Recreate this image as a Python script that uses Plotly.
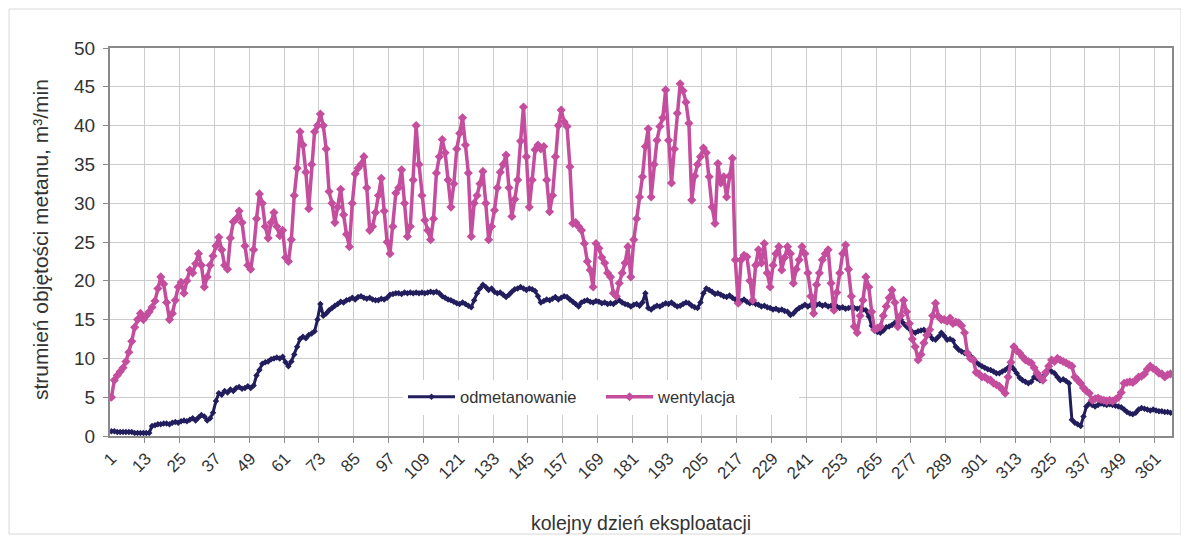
import plotly.graph_objects as go

days = list(range(1, 367))

odmetanowanie = [
    0.6, 0.6, 0.5, 0.5, 0.5, 0.5, 0.5, 0.5, 0.4, 0.4,
    0.4, 0.4, 0.4, 0.4, 1.3, 1.4, 1.5, 1.5, 1.6, 1.6,
    1.5, 1.7, 1.8, 1.7, 1.9, 2.0, 1.9, 2.1, 2.3, 2.0,
    2.4, 2.7, 2.5, 2.0, 2.3, 3.0, 4.5, 5.5, 5.3, 5.8,
    5.6, 6.0, 5.8, 6.2, 6.3, 6.1, 6.2, 6.4, 6.2, 6.5,
    7.8, 8.5, 9.3, 9.5, 9.6, 9.9, 10.0, 10.1, 10.0, 10.2,
    9.5, 9.0, 9.6, 10.5, 11.5, 12.5, 12.8, 12.6, 13.0, 13.2,
    13.5, 15.0, 17.0, 15.5, 15.8, 16.2, 16.5, 16.8, 17.0, 17.3,
    17.2, 17.5, 17.6, 17.8, 17.6, 17.9, 18.0, 17.8, 17.7, 17.8,
    17.6, 17.5, 17.5, 17.7, 17.6, 17.8, 18.2, 18.3, 18.4, 18.4,
    18.3, 18.5, 18.4, 18.5, 18.4, 18.5, 18.4, 18.5, 18.4, 18.5,
    18.6, 18.5, 18.6, 18.4, 18.0, 17.8, 17.6, 17.5, 17.3, 17.1,
    17.0, 17.2, 17.0, 16.8, 16.6, 17.5, 18.4, 19.0, 19.5, 19.2,
    18.8, 19.0, 18.6, 18.4, 18.5, 18.2, 17.9, 18.2, 18.6, 18.9,
    19.0, 19.2, 19.0, 18.8, 19.0, 18.9, 18.7, 18.0, 17.2, 17.4,
    17.6, 17.5, 17.7, 17.9, 17.6, 17.8, 18.0, 17.9, 17.6, 17.3,
    17.0, 16.7, 17.2, 17.4, 17.5, 17.3, 17.2, 17.4, 17.3, 17.1,
    17.2, 17.0, 17.1, 17.0, 17.3, 17.5, 17.2, 17.0, 16.9, 16.7,
    16.9, 17.0, 16.8, 17.2, 18.4, 16.5, 16.3, 16.6, 16.8, 16.7,
    16.9, 17.1, 17.0, 17.2, 16.9, 16.7, 16.8, 17.0, 17.2, 17.1,
    16.8, 16.6, 16.5, 17.2, 18.4, 19.0, 18.8, 18.6, 18.3, 18.4,
    18.2, 18.0, 17.9, 18.1, 17.8, 17.6, 17.5, 17.4, 17.6, 17.3,
    17.1, 17.2, 17.0, 16.9, 16.7, 16.8, 16.6, 16.5, 16.3, 16.4,
    16.2, 16.3, 16.1, 16.0, 15.6, 15.8, 16.2, 16.5, 16.7, 16.9,
    16.7, 16.9, 17.1, 16.9, 17.0, 16.8, 16.9, 16.7, 16.8, 16.6,
    16.7, 16.5, 16.6, 16.4, 16.5, 16.6, 16.5, 16.4, 16.5, 16.3,
    16.2, 15.4, 14.2, 13.8, 13.4, 13.3, 13.6, 14.0, 14.1, 14.3,
    14.6, 14.8, 15.0, 14.5, 14.1, 13.8, 13.4, 13.3, 13.5, 13.6,
    13.7, 13.4, 13.0, 12.5, 12.4, 12.8, 13.3, 12.9, 12.4, 12.5,
    12.3, 11.5, 11.1, 10.9, 10.7, 10.5, 10.3, 10.0, 9.5, 9.2,
    9.0, 8.8, 8.6, 8.5, 8.3, 8.1, 8.1, 8.3, 8.5, 8.8,
    9.4, 8.6, 8.1, 7.5, 7.2, 7.0, 6.8, 7.0, 7.6, 7.4,
    7.2, 7.6, 8.0, 8.5, 8.3, 8.1, 7.6, 7.2, 7.3, 7.1,
    6.8, 2.1, 1.7, 1.5, 1.3, 2.5, 3.8, 4.2, 4.0, 3.8,
    4.0, 4.2, 4.1, 4.0, 4.1, 4.0, 3.9, 3.8, 3.7, 3.4,
    3.1, 2.9, 2.8, 3.0, 3.4, 3.6, 3.5, 3.4, 3.3, 3.4,
    3.3, 3.2, 3.2, 3.1, 3.1, 3.0,
]

wentylacja = [
    5.0, 7.2, 7.8, 8.3, 8.8, 9.6, 10.8, 12.2, 14.0, 15.0,
    15.8, 15.0, 15.5, 16.0, 16.6, 17.4, 19.0, 20.5, 19.6, 17.2,
    15.0, 15.8, 17.5, 19.2, 19.8, 18.4, 20.0, 21.4, 21.0, 22.2,
    23.5, 22.0, 19.2, 20.5, 22.0, 23.2, 24.5, 25.6, 24.0, 22.0,
    21.5, 25.5, 27.6, 28.0, 29.0, 27.5, 24.5, 22.0, 21.5, 24.0,
    28.0, 31.2, 30.0, 27.0, 25.5, 27.5, 28.8, 27.0, 25.8, 26.5,
    23.0, 22.5, 25.3, 31.0, 34.5, 39.2, 37.5, 34.0, 29.3, 35.0,
    39.2, 40.0, 41.5, 40.0, 37.0, 31.5, 30.0, 27.5, 29.5, 31.8,
    28.5, 26.0, 24.4, 30.0, 33.8, 34.5, 35.0, 36.0, 32.0, 26.5,
    27.0, 28.8, 31.0, 33.2, 29.0, 25.0, 23.5, 27.0, 31.3, 32.0,
    34.3, 30.0, 25.7, 27.0, 33.0, 40.0, 35.0, 31.0, 27.8, 26.5,
    25.3, 28.0, 33.9, 36.0, 38.2, 36.5, 33.0, 29.5, 32.5, 37.0,
    39.0, 41.0, 37.5, 33.9, 25.7, 30.0, 31.0, 32.5, 34.1, 30.0,
    25.3, 27.0, 29.1, 32.0, 34.0, 35.0, 36.2, 32.0, 28.3, 30.5,
    33.0, 38.0, 42.4, 36.0, 29.5, 33.0, 36.9, 37.5, 37.0, 37.3,
    33.0, 28.9, 31.0, 36.0, 40.0, 42.0, 40.5, 39.9, 34.7, 27.4,
    27.5, 27.0, 26.5, 24.8, 22.5, 21.4, 19.2, 24.8, 24.2, 23.0,
    22.3, 21.0, 20.5, 18.4, 18.0, 19.7, 21.0, 22.3, 24.4, 20.5,
    25.3, 28.0, 30.8, 33.4, 37.3, 39.6, 30.8, 35.0, 38.1, 39.9,
    41.0, 44.6, 38.1, 32.6, 37.0, 41.6, 45.4, 44.5, 43.0, 40.3,
    30.4, 33.5, 35.0, 36.0, 37.1, 36.5, 33.4, 29.5, 27.4, 35.1,
    32.6, 33.4, 30.8, 33.5, 35.8, 22.7, 17.1, 22.7, 23.3, 23.1,
    20.0, 17.5, 22.0, 24.0, 22.3, 24.8, 21.0, 19.2, 22.0, 23.5,
    24.4, 21.4, 23.0, 24.4, 23.5, 19.7, 21.5, 22.7, 24.4, 23.5,
    21.0, 18.0, 15.8, 19.5, 21.0, 22.7, 23.5, 24.0, 19.7, 16.2,
    18.5, 21.0, 23.5, 24.6, 21.5, 18.0, 14.1, 13.3, 15.5, 17.5,
    20.5, 19.2, 16.0, 13.7, 13.9, 14.1, 15.5, 16.7, 17.8, 18.8,
    17.2, 14.1, 15.5, 17.5, 16.0, 14.5, 12.5, 11.5, 9.8, 10.5,
    12.0, 13.0, 13.7, 15.5, 17.1, 15.4, 15.0, 15.0, 14.8, 15.2,
    14.5, 14.7, 14.6, 14.2, 13.3, 10.7, 10.0, 9.8, 8.2, 8.0,
    7.6, 7.6, 7.3, 7.2, 6.8, 6.6, 6.4, 6.0, 5.5, 7.6,
    9.5, 11.5, 11.0, 10.7, 10.2, 9.8, 9.6, 9.4, 8.8, 8.1,
    7.6, 7.2, 8.2, 9.0, 9.8, 9.6, 10.0, 9.8, 9.6, 9.4,
    9.2, 9.0, 7.6, 7.2, 6.8, 6.2, 5.8, 5.5, 4.6, 4.8,
    4.9, 4.7, 4.6, 4.5, 4.6, 4.5, 4.7, 5.0, 5.6, 6.8,
    6.9, 7.0, 6.9, 7.2, 7.6, 7.7, 8.0, 8.6, 9.0, 8.7,
    8.5, 8.1, 8.0, 7.6, 7.9, 8.0,
]

tick_days = list(range(1, 362, 12))
tick_labels = [str(d) for d in tick_days]
grid_days = [12.5 + 12 * k for k in range(30)]

NAVY = "#221d5c"
PINK = "#c44d9e"
FONT = "Liberation Sans, Arial, sans-serif"
TXT = "#333333"

fig = go.Figure()
fig.add_trace(go.Scatter(
    x=days, y=odmetanowanie, name="odmetanowanie", mode="lines+markers",
    line=dict(color=NAVY, width=3),
    marker=dict(symbol="diamond", size=5, color=NAVY),
))
fig.add_trace(go.Scatter(
    x=days, y=wentylacja, name="wentylacja", mode="lines+markers",
    line=dict(color=PINK, width=3.5),
    marker=dict(symbol="diamond", size=7, color=PINK),
))

# page is offset by the 8px body margin; work in page pixel coordinates
OFF = 8
PAGE_W, PAGE_H = 1189, 540
PL, PR, PT, PB = 110, 1172, 48, 436  # plot area in page px
W, H = PAGE_W - OFF, PAGE_H - OFF
pw = PR - PL
ph = PB - PT


def px_x(x):
    return (x - PL) / pw


def px_y(y):
    return (PB - y) / ph


fig.update_layout(
    width=W, height=H,
    margin=dict(l=PL - OFF, r=PAGE_W - PR, t=PT - OFF, b=PAGE_H - PB),
    paper_bgcolor="white", plot_bgcolor="white",
    font=dict(family=FONT, color=TXT),
    showlegend=True,
    legend=dict(
        orientation="h", x=px_x(403), y=px_y(397), xanchor="left", yanchor="middle",
        bgcolor="white", borderwidth=0, font=dict(size=16.5, color=TXT),
        entrywidth=136, entrywidthmode="pixels", itemwidth=47,
    ),
    xaxis=dict(
        range=[0.5, 366.5], tickmode="array", tickvals=tick_days, ticktext=tick_labels,
        tickangle=-45, showgrid=False, ticks="", zeroline=False,
        showline=True, linecolor="#8a8a8a", linewidth=2, mirror=True,
        tickfont=dict(size=17, color=TXT, family=FONT), ticklabelstandoff=4,
        minor=dict(tickmode="array", tickvals=grid_days, showgrid=True,
                   gridcolor="#cccccc", gridwidth=1, ticks="outside",
                   ticklen=5, tickcolor="#8a8a8a"),
    ),
    yaxis=dict(
        range=[0, 50], tick0=0, dtick=5, showgrid=True, gridcolor="#cccccc",
        gridwidth=1, zeroline=False, showline=True, linecolor="#8a8a8a",
        linewidth=2, mirror=True, ticks="outside", ticklen=5, tickcolor="#8a8a8a",
        tickfont=dict(size=19, color=TXT, family=FONT), ticklabelstandoff=4,
    ),
    annotations=[
        dict(text="kolejny dzień eksploatacji", xref="paper", yref="paper",
             x=px_x(641), y=px_y(523), xanchor="center", yanchor="middle",
             showarrow=False, font=dict(size=19.5, color=TXT, family=FONT)),
        dict(text="strumień objętości metanu, m³/min", xref="paper", yref="paper",
             x=px_x(40), y=px_y(240), xanchor="center", yanchor="middle",
             textangle=-90, showarrow=False,
             font=dict(size=21, color=TXT, family=FONT)),
    ],
    shapes=[
        dict(type="rect", xref="paper", yref="paper",
             x0=px_x(9), x1=px_x(1181), y0=px_y(534), y1=px_y(9),
             line=dict(color="#d8d8d8", width=1), fillcolor="rgba(0,0,0,0)",
             layer="below"),
    ],
)

fig.write_html("out.html")
